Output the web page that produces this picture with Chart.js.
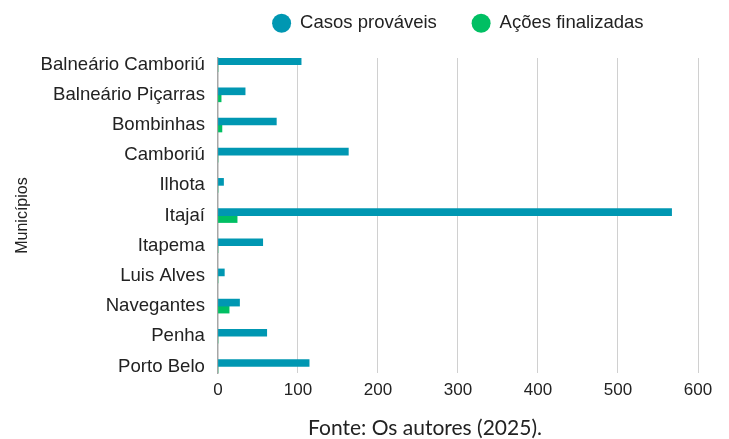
<!DOCTYPE html>
<html>
<head>
<meta charset="utf-8">
<script src="https://cdn.jsdelivr.net/npm/chart.js@4"></script>
<style>
  html, body { margin: 0; padding: 0; background: #fff; }
  #wrap { position: relative; width: 729px; height: 439px; }
  #source { position: absolute; left: 425px; top: 414px; transform: translateX(-50%); white-space: nowrap; font: 21px Lato, sans-serif; color: #222; }
</style>
</head>
<body>
<div id="wrap">
  <canvas id="chart" width="729" height="439"></canvas>
  <div id="source">Fonte: Os autores (2025).</div>
</div>
<script>
const municipios = ['Balneário Camboriú', 'Balneário Piçarras', 'Bombinhas', 'Camboriú', 'Ilhota', 'Itajaí', 'Itapema', 'Luis Alves', 'Navegantes', 'Penha', 'Porto Belo'];
const casosProvaveis = [104, 34, 73, 163, 7, 567, 56, 8, 27, 61, 114];
const acoesFinalizadas = [0, 4, 5, 0, 0, 24, 0, 0, 14, 0, 0];
const xMin = 0;
const xMax = 600;
const xStep = 100;

// fraction of a category left free above the first and below the last row
const yEdge = 0.22;

// push the plot down a bit below the legend
const legendGap = {
    id: 'legendGap',
    beforeInit(chart) {
        const fit = chart.legend.fit;
        chart.legend.fit = function () {
            fit.call(this);
            this.height += 15.5;
        };
    }
};

Chart.defaults.font.family = "'Liberation Sans', Arial, sans-serif";
Chart.defaults.color = '#222';

new Chart(document.getElementById('chart'), {
    type: 'bar',
    data: {
        labels: municipios,
        datasets: [
            { label: 'Casos prováveis', data: casosProvaveis, backgroundColor: '#0097b2', barThickness: 7 },
            { label: 'Ações finalizadas', data: acoesFinalizadas, backgroundColor: '#00bf63', barThickness: 7 }
        ]
    },
    options: {
        indexAxis: 'y',
        responsive: false,
        animation: false,
        layout: { padding: { top: -21, left: 9.4, right: 31, bottom: 31.5 } },
        plugins: {
            legend: {
                fullSize: false,
                labels: { usePointStyle: true, pointStyle: 'circle', boxWidth: 18.5, boxHeight: 13.4, padding: 35, font: { size: 18.5 } }
            },
            tooltip: { enabled: false }
        },
        scales: {
            x: {
                min: xMin,
                max: xMax,
                ticks: { stepSize: xStep, padding: 7, font: { size: 17 } },
                grid: { color: '#d0d0d0', drawTicks: false },
                border: { display: false }
            },
            y: {
                offset: false,
                grid: { display: false, drawTicks: true, tickLength: 7 },
                border: { color: '#a6a6a6', width: 1.5 },
                ticks: { padding: 6, autoSkip: false, font: { size: 18.6 } },
                title: { display: true, text: 'Municípios', font: { size: 16 }, padding: { top: 4, bottom: 2 } },
                afterBuildTicks: (axis) => {
                    axis._startValue = -yEdge;
                    axis._valueRange = municipios.length - 1 + 2 * yEdge;
                }
            }
        }
    },
    plugins: [legendGap]
});
</script>
</body>
</html>
